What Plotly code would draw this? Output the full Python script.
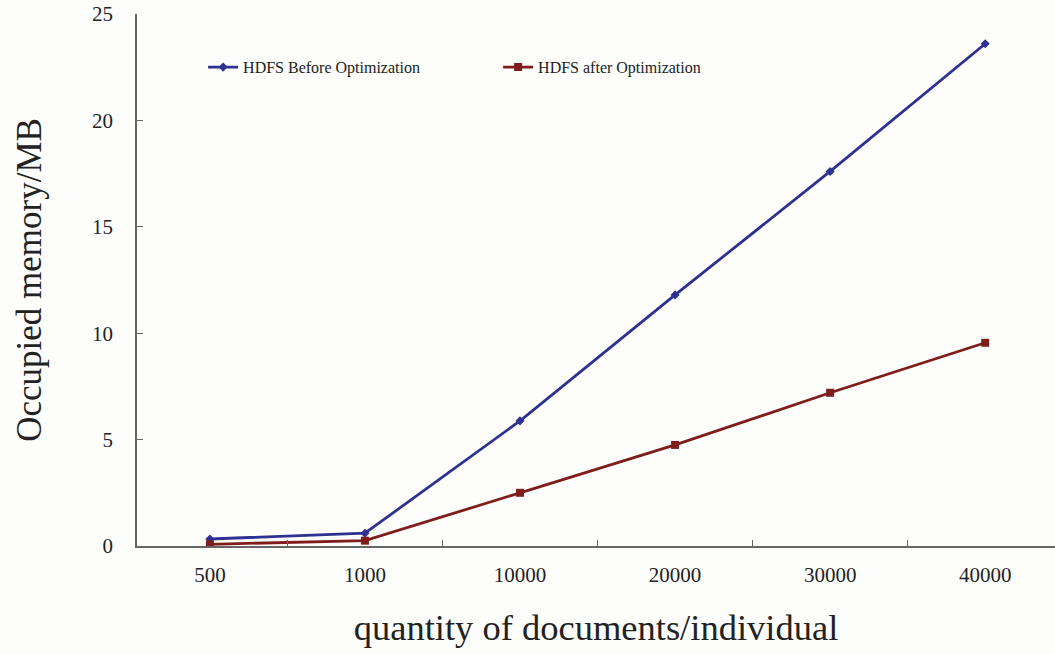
import plotly.graph_objects as go

categories = ["500", "1000", "10000", "20000", "30000", "40000"]
before_opt = [0.33, 0.6, 5.88, 11.8, 17.6, 23.6]
after_opt = [0.08, 0.25, 2.5, 4.75, 7.2, 9.55]
series_names = ["HDFS Before Optimization", "HDFS after Optimization"]
y_ticks = [0, 5, 10, 15, 20, 25]

font_family = "Liberation Serif, Times New Roman, serif"

fig = go.Figure()
fig.add_trace(go.Scatter(
    x=categories, y=before_opt, name=series_names[0], mode="lines+markers",
    line=dict(color="#2e3192", width=2.8),
    marker=dict(symbol="diamond", size=7, color="#2e3192"),
))
fig.add_trace(go.Scatter(
    x=categories, y=after_opt, name=series_names[1], mode="lines+markers",
    line=dict(color="#7f1d1d", width=2.8),
    marker=dict(symbol="square", size=8, color="#7f1d1d"),
))

fig.update_layout(
    width=1055, height=654,
    margin=dict(l=137, r=0, t=14, b=108),
    paper_bgcolor="#fdfdfb", plot_bgcolor="#fdfdfb",
    font=dict(family=font_family, color="#222222"),
    showlegend=True,
    legend=dict(
        orientation="h", x=0.072, y=0.90, xanchor="left", yanchor="middle",
        font=dict(size=16, family=font_family, color="#222222"),
        bgcolor="rgba(0,0,0,0)", entrywidth=250, entrywidthmode="pixels",
        itemwidth=30,
    ),
    xaxis=dict(
        type="category", range=[-0.47, 5.45], automargin=False,
        showline=True, linecolor="#666666", linewidth=1.5,
        ticks="inside", ticklen=6, tickcolor="#666666", tickson="boundaries",
        showgrid=False, zeroline=False,
        tickfont=dict(size=21, family=font_family, color="#222222"),
        ticklabelstandoff=9, ticklabeloverflow="allow",
        title=dict(text="quantity of documents/individual",
                   font=dict(size=36.5, family=font_family, color="#222222"), standoff=28),
    ),
    yaxis=dict(
        range=[0, 25], tickvals=y_ticks, automargin=False,
        showline=True, linecolor="#666666", linewidth=1.5,
        ticks="inside", ticklen=6, tickcolor="#666666",
        showgrid=False, zeroline=False,
        tickfont=dict(size=21, family=font_family, color="#222222"),
        ticklabelstandoff=18, ticklabeloverflow="allow",
        title=dict(text="Occupied memory/MB",
                   font=dict(size=35, family=font_family, color="#222222"), standoff=40),
    ),
)

fig.write_html("out.html", config={"displayModeBar": False},
               post_script="document.body.style.margin='0';")
